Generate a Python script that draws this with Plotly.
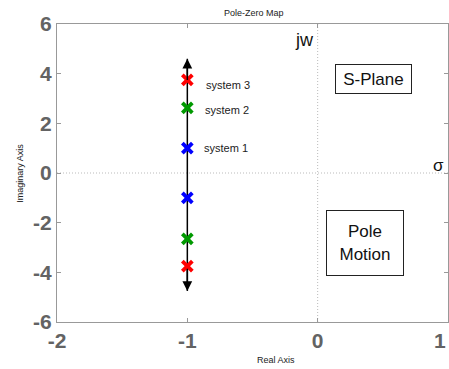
import plotly.graph_objects as go

# ---- data ----
systems = ["system 1", "system 2", "system 3"]
pole_real = [-1, -1, -1]
pole_imag_pos = [1.0, 2.62, 3.75]
pole_imag_neg = [-1.0, -2.65, -3.75]
pole_colors = ["#0000ff", "#009900", "#ff0000"]
arrow_x = -1
arrow_top = 4.6
arrow_bottom = -4.75
x_ticks = [-2, -1, 0, 1]
y_ticks = [-6, -4, -2, 0, 2, 4, 6]

FONT = "Liberation Sans, Arial, sans-serif"
GRAY = "#636363"

fig = go.Figure()

# vertical black line of pole motion
fig.add_trace(go.Scatter(x=[arrow_x, arrow_x], y=[arrow_bottom, arrow_top], mode="lines",
                         line=dict(color="black", width=1.5), hoverinfo="skip", showlegend=False))

for i, name in enumerate(systems):
    fig.add_trace(go.Scatter(
        x=[pole_real[i], pole_real[i]], y=[pole_imag_pos[i], pole_imag_neg[i]],
        mode="markers", name=name, showlegend=False,
        marker=dict(symbol="x-thin", size=10, line=dict(width=3.8, color=pole_colors[i]),
                    color=pole_colors[i])))

annotations = []
# arrowheads
for end in (arrow_top, arrow_bottom):
    annotations.append(dict(x=arrow_x, y=end, ax=arrow_x, ay=end * 0.8, xref="x", yref="y",
                            axref="x", ayref="y", showarrow=True, arrowhead=2, arrowsize=1.3,
                            arrowwidth=1.5, arrowcolor="black", text=""))
# system labels
label_shift = [0, -2, -5]
for i, name in enumerate(systems):
    annotations.append(dict(x=pole_real[i], y=pole_imag_pos[i], xref="x", yref="y", text=name,
                            showarrow=False, xanchor="left", xshift=15 + i, yshift=label_shift[i],
                            font=dict(family=FONT, size=11, color="#222")))
# plane labels
annotations += [
    dict(x=0.425, y=3.78, xref="x", yref="y", text="S-Plane", showarrow=False,
         font=dict(family=FONT, size=17, color="#111"), bordercolor="#222", borderwidth=1,
         borderpad=1, width=73, height=26),
    dict(x=0.36, y=-2.8, xref="x", yref="y", text="Pole<br>Motion", showarrow=False,
         font=dict(family=FONT, size=17, color="#111"), bordercolor="#222", borderwidth=1,
         borderpad=1, width=74, height=62),
    dict(x=-0.1, y=5.35, xref="x", yref="y", text="jw", showarrow=False,
         font=dict(family=FONT, size=18, color="#111")),
    dict(x=0.93, y=0.3, xref="x", yref="y", text="σ", showarrow=False,
         font=dict(family=FONT, size=17, color="#111")),
    # last x tick label, kept inside the page
    dict(x=x_ticks[-1], y=-0.062, xref="x", yref="paper", text=str(x_ticks[-1]), showarrow=False,
         xanchor="right", yanchor="middle",
         font=dict(family=FONT, size=21, color=GRAY, weight="bold")),
    # axis titles
    dict(x=0.56, y=-0.127, xref="paper", yref="paper", text="Real Axis", showarrow=False,
         yanchor="middle", font=dict(family=FONT, size=9, color="#222")),
    dict(x=-0.095, y=0.5, xref="paper", yref="paper", text="Imaginary Axis", showarrow=False,
         textangle=-90, xanchor="center", font=dict(family=FONT, size=9, color="#222")),
]

axis_common = dict(showgrid=False, zeroline=False, showline=True, linecolor="#999", linewidth=1,
                   mirror="ticks", ticks="inside", ticklen=4, tickcolor="#999", automargin=False,
                   tickfont=dict(family=FONT, size=21, color=GRAY, weight="bold"))

fig.update_layout(
    width=449, height=369,
    margin=dict(l=57, r=1, t=24, b=47),
    paper_bgcolor="white", plot_bgcolor="white",
    title=dict(text="Pole-Zero Map", x=0.565, xanchor="center", y=0.965, yanchor="middle",
               font=dict(family=FONT, size=9, color="#222")),
    xaxis=dict(range=[-2, 1], tickvals=x_ticks, ticktext=[str(v) for v in x_ticks],
               ticklabelstandoff=0, **axis_common),
    yaxis=dict(range=[-6, 6], tickvals=y_ticks, ticktext=[str(v) for v in y_ticks],
               ticklabelstandoff=0, **axis_common),
    annotations=annotations,
    shapes=[
        dict(type="line", xref="x", yref="paper", x0=0, x1=0, y0=0, y1=1,
             line=dict(color="#bbb", width=1, dash="1px,2px"), layer="below"),
        dict(type="line", xref="paper", yref="y", x0=0, x1=1, y0=0, y1=0,
             line=dict(color="#bbb", width=1, dash="1px,2px"), layer="below"),
    ],
)

fig.write_html("out.html", config={"displayModeBar": False},
               post_script="document.body.style.margin='0';document.body.style.overflow='hidden';")
